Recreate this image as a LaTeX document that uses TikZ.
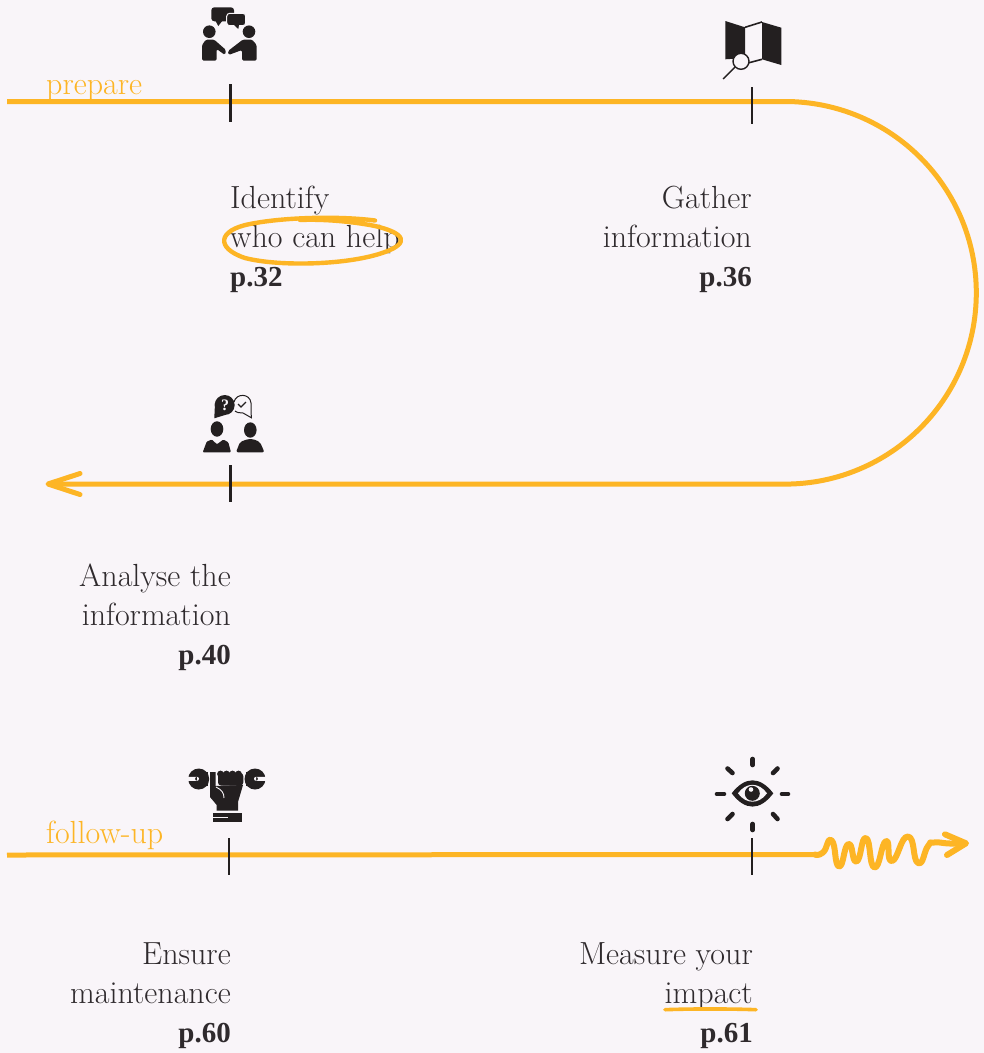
\documentclass[tikz,border=0pt]{standalone}
\usepackage{fontspec}
\usetikzlibrary{arrows.meta}
\newfontfamily\pagefont{Liberation Serif}
\definecolor{paper}{HTML}{F9F5F9}
\definecolor{amber}{HTML}{FDB525}
\definecolor{ink}{HTML}{231F20}
\definecolor{txt}{HTML}{2F2A2D}
\newcommand{\pagenum}[1]{{\pagefont\bfseries\fontsize{29}{39}\selectfont #1}}
\tikzset{
  track/.style={amber, line width=5pt},
  tick/.style={ink, line width=2.4pt},
  scribble/.style={amber, line width=4.4pt, line cap=round, line join=round},
  step text/.style={text=txt, font=\fontsize{32}{39}\selectfont, inner sep=0pt},
  phase/.style={text=amber, font=\fontsize{32}{32}\selectfont, inner sep=0pt, anchor=base west},
  ray/.style={ink, line width=4.6pt, line cap=round},
  icon/.style={fill=ink, draw=none}
}
\begin{document}
\begin{tikzpicture}[x=1pt,y=-1pt]
\fill[paper] (0,0) rectangle (984,1053);
\useasboundingbox (0,0) rectangle (984,1053);

\coordinate (prepstart) at (7,101.5);
\coordinate (prepbend) at (785,101.5);
\coordinate (prepend) at (48,484);
\coordinate (followstart) at (7,855);
\coordinate (followwave) at (818,854.5);
\draw[track] (prepstart) -- (prepbend) arc[start angle=-90, end angle=90, radius=191.3] -- (prepend);
\draw[track, line cap=round, line join=round] (prepend) ++(32,-10.5) -- (prepend) -- ++(32,10.5);
\draw[track] (followstart) -- (followwave);
\draw[amber, line width=6pt, line cap=round, line join=round] plot[smooth, tension=1] coordinates {(815,854.5) (823,852.5) (831.7,840.5) (839,866.5) (848.5,844) (856.5,861.5) (866,838) (874.5,867.5) (886,841) (892,861) (908,836.5) (918,863) (928,846) (934,842.5) (950,843.5) (965,843.3)};
\draw[amber, line width=6pt, line cap=round, line join=round] (945,834.3) -- (966,843.3) -- (947,855);

\foreach \name/\tx/\ty/\ly in {who/230.5/84/122, gather/752/87/124, analyse/230.5/465/502, ensure/229/838/875, measure/752/838/875} {
  \coordinate (\name top) at (\tx,\ty);
  \coordinate (\name bot) at (\tx,\ly);
  \draw[tick] (\name top) -- (\name bot);
}

\node[phase] (prepare) at (46,94) {prepare};
\node[phase] (followup) at (46,843) {follow-up};

\node[step text, anchor=north west, align=left] (whotext) at (230,186) {Identify\\who can help\\\pagenum{p.32}};
\node[step text, anchor=north east, align=right] (gathertext) at (752,186) {Gather\\information\\\pagenum{p.36}};
\node[step text, anchor=north east, align=right] (analysetext) at (231,564) {Analyse the\\information\\\pagenum{p.40}};
\node[step text, anchor=north east, align=right] (ensuretext) at (231,942) {Ensure\\maintenance\\\pagenum{p.60}};
\node[step text, anchor=north east, align=right] (measuretext) at (753,942) {Measure your\\impact\\\pagenum{p.61}};

\draw[scribble] (375,220.5) .. controls (340,216) and (285,217) .. (250,224) .. controls (218,230) and (215,248) .. (245,258) .. controls (280,267) and (350,265) .. (385,252) .. controls (410,243) and (405,233) .. (375,226) .. controls (350,221) and (320,219) .. (300,220);
\draw[amber, line width=3.6pt, line cap=round] (665,1009.7) .. controls (690,1008.7) and (730,1008.7) .. (756,1009.7);

\fill[icon, rounded corners=3pt] (211.3,7.3) rectangle (234,21.3);
\fill[icon] (215,20) -- (218.3,26) -- (223,20) -- cycle;
\fill[icon, draw=paper, line width=1pt, rounded corners=3pt] (226.7,13.3) rectangle (245.7,25.7);
\fill[icon] (234,25) -- (238.3,29) -- (239,25) -- cycle;
\fill[icon] (209.3,31.7) circle (6.3) (249,31.7) circle (6.3);
\fill[icon, rounded corners=1.5pt] (202,60.7) -- (202,45) -- (206,39.5) -- (214,39.5) -- (226,50) -- (225,55) -- (216.7,49) -- (216.7,60.7) -- cycle;
\fill[icon, rounded corners=1.5pt] (256.7,60.7) -- (256.7,45) -- (252,39.5) -- (243,39.5) -- (228,51) -- (228.5,55) -- (242,50) -- (242,60.7) -- cycle;

\fill[icon] (725.3,21) -- (745,27.3) -- (745,58) -- (725.3,59.3) -- cycle;
\fill[icon] (762,22) -- (781.3,27.7) -- (781.3,65) -- (762,59.3) -- cycle;
\draw[ink, line width=1.6pt] (745,27.3) -- (762,22) (762,59.3) -- (748,63);
\draw[ink, line width=1.4pt, fill=paper] (741,61.3) circle (8);
\draw[ink, line width=1.4pt] (735,67) -- (723,79);

\fill[icon] (224.7,405) circle (10);
\fill[icon] (215,403) -- (214.3,418.3) -- (225,415) -- cycle;
\node[text=paper, font=\pagefont\bfseries\fontsize{16}{16}\selectfont, inner sep=0pt] (qmark) at (225,405) {?};
\draw[ink, line width=1pt] (234,402) .. controls (236,393) and (250,393) .. (251,403) -- (251.3,417.7) -- (243,413) .. controls (240,413.5) and (236,412) .. (235,411);
\draw[ink, line width=1.4pt] (238,404) -- (241,407) -- (246,402);
\fill[icon] (217,429) ellipse (6.3 and 7.7);
\fill[icon, rounded corners=1pt] (202.7,452.3) -- (206.7,441.7) -- (211.7,439.5) -- (217,444.3) -- (223.3,439.5) -- (228.3,442.3) -- (231,452.3) -- cycle;
\fill[icon] (250.3,430) ellipse (6.3 and 7.7);
\fill[icon, rounded corners=2pt] (236,452.3) -- (240,442) -- (248,439) -- (253,439) -- (260,442) -- (264.5,452.3) -- cycle;

\fill[icon] (220.5,774) circle (3.4) (226.5,774) circle (3.4) (232.5,774) circle (3.4) (238.5,774) circle (3.4);
\fill[icon, rounded corners=3pt] (218,773) rectangle (243.3,785.5);
\fill[icon] (210,772) -- (215.7,772) -- (215.7,786) -- (243,785) -- (238,802) -- (238,810.7) -- (216.7,810.7) -- (216.7,805) -- (210,797) -- cycle;
\draw[paper, line width=0.9pt] (216,787) .. controls (222,790) and (224,793) .. (224,798);
\fill[icon] (212.7,813.3) rectangle (241.7,822.3);
\fill[paper] (212.7,816.8) rectangle (228.3,818.4);
\fill[icon] (198.7,779) circle (10.5);
\fill[icon] (198,772) rectangle (208.3,786);
\fill[paper] (186,776.8) rectangle (197,780.8) (197,778.8) circle (2);
\fill[icon] (255,779) circle (10.5);
\fill[icon] (245.5,772) rectangle (255,786);
\fill[paper] (256,776.8) rectangle (267,780.8) (256,778.8) circle (2);

\fill[icon] (731.7,793.3) .. controls (745,776) and (760,776) .. (773.3,793.3) .. controls (760,811) and (745,811) .. (731.7,793.3) -- cycle;
\fill[paper] (738,793.3) .. controls (746,782) and (759,782) .. (767,793.3) .. controls (759,804.5) and (746,804.5) .. (738,793.3) -- cycle;
\fill[icon] (752.3,793.3) circle (7.5);
\fill[paper] (751,789.5) circle (2.3);
\draw[ray] (752.7,759) -- (752.7,765);
\draw[ray] (773,773) -- (777.5,768.5);
\draw[ray] (782,794) -- (788,794);
\draw[ray] (773,814) -- (777.5,819);
\draw[ray] (752.7,824) -- (752.7,830);
\draw[ray] (727.5,819) -- (732.5,814);
\draw[ray] (717,794) -- (724,794);
\draw[ray] (727.5,768.5) -- (732.5,773);
\end{tikzpicture}
\end{document}
